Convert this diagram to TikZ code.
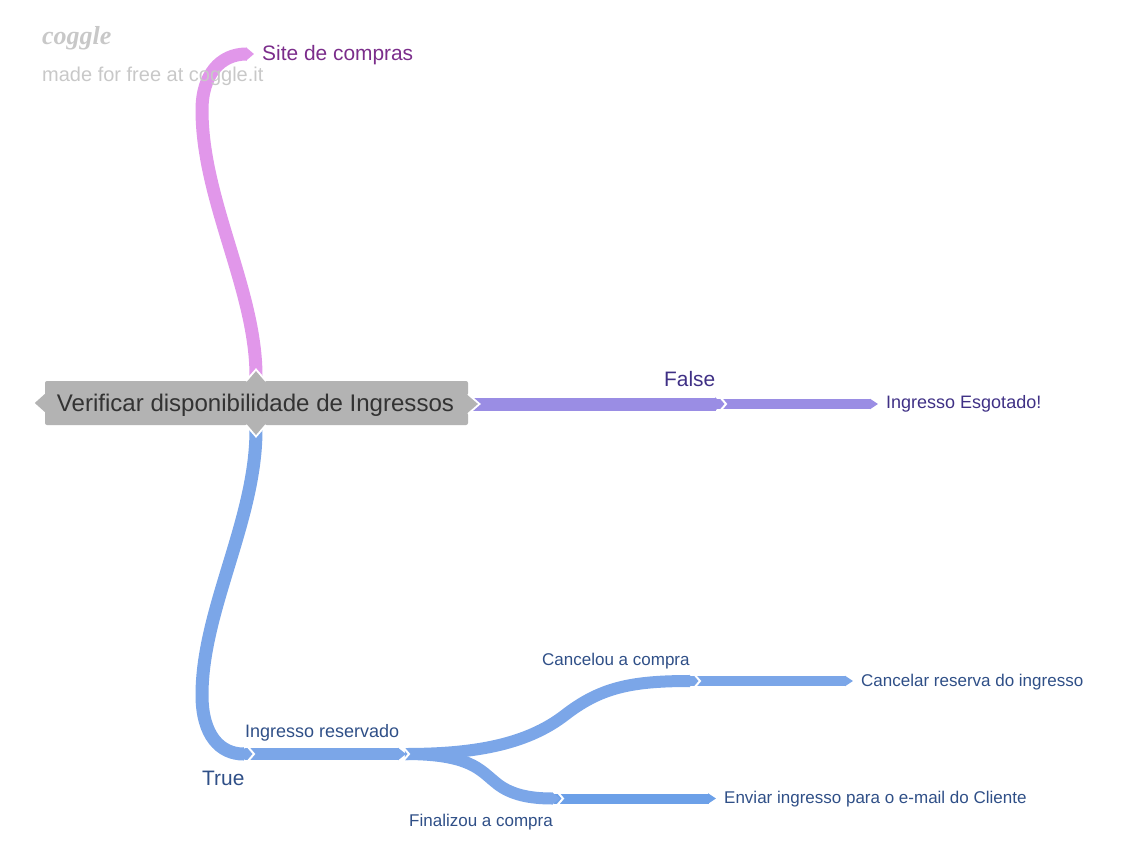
\documentclass[tikz,border=0pt]{standalone}
\usepackage{fontspec}
\setmainfont{Liberation Sans}
\newfontfamily\logofont{Liberation Serif}
\usetikzlibrary{arrows.meta}
\definecolor{rootgray}{HTML}{B3B3B3}
\definecolor{pinkbranch}{HTML}{E197EA}
\definecolor{violetbranch}{HTML}{9A8DE4}
\definecolor{bluebranch}{HTML}{7BA6E8}
\definecolor{sendbranch}{HTML}{6CA0E8}
\definecolor{pinktext}{HTML}{7B2D8B}
\definecolor{violettext}{HTML}{3F3085}
\definecolor{bluetext}{HTML}{2F4F87}
\definecolor{logogray}{HTML}{C8C8C8}
\tikzset{
	branch/.style={line width=#1pt, -{Triangle[length=8pt,width=#1pt]}},
	label/.style={inner sep=0pt, anchor=west},
	leaf/.style={inner xsep=8pt, inner ysep=0pt, anchor=west, font=\fontsize{17}{21}\selectfont},
	chevron/.pic={\draw[white, line width=2pt, miter limit=10] (-6,-7) -- (0,0) -- (-6,7);},
	roottip/.pic={\fill[rootgray] (0,-9) -- (10,0) -- (0,9) -- cycle;},
	rootchevron/.pic={\draw[white, line width=1.8pt] (0,-10) -- (11.5,0) -- (0,10);}
}
\begin{document}
\begin{tikzpicture}[x=1pt,y=-1pt]
\useasboundingbox (0,0) rectangle (1130,867);
\node[fill=rootgray, rounded corners=2pt, minimum width=423pt, minimum height=44pt, inner sep=0pt, text=black!80, font=\fontsize{24.05}{29}\selectfont] (root) at (256.5,403) {\hspace*{-2pt}\raisebox{-8.5pt}[0pt][0pt]{Verificar disponibilidade de Ingressos}};
\coordinate (roottop) at (256,376);
\coordinate (rootbottom) at (256,430);
\coordinate (rootright) at (472,404);
\coordinate (falsejoin) at (723,404);
\coordinate (truejoin) at (251,754);
\coordinate (reservedjoin) at (406,754);
\coordinate (cancelstart) at (405,754);
\coordinate (canceljoin) at (697,681);
\coordinate (finishjoin) at (560,798.5);
\node[leaf, text=pinktext, font=\fontsize{20.9}{25}\selectfont] (site) at (254,55) {Site de compras};
\node[leaf, text=violettext, font=\fontsize{18}{21}\selectfont] (sold) at (878,403.5) {Ingresso Esgotado!};
\node[leaf, text=bluetext] (cancelleaf) at (853,682) {Cancelar reserva do ingresso};
\node[leaf, text=bluetext] (sendleaf) at (716,799) {Enviar ingresso para o e-mail do Cliente};
\node[label, text=violettext, font=\fontsize{20.9}{25}\selectfont] (falselabel) at (664,379) {False};
\node[label, text=bluetext, font=\fontsize{20.9}{25}\selectfont] (truelabel) at (202,778) {True};
\node[label, text=bluetext, font=\fontsize{18}{21}\selectfont] (reservedlabel) at (245,733) {Ingresso reservado};
\node[label, text=bluetext, font=\fontsize{17}{21}\selectfont] (cancellabel) at (542,661) {Cancelou a compra};
\node[label, text=bluetext, font=\fontsize{17}{21}\selectfont] (finishlabel) at (409,822) {Finalizou a compra};
\draw[branch=13, pinkbranch] (roottop) .. controls (256,290) and (202,200) .. (202,110) .. controls (202,75) and (220,54) .. (site.west |- 0,54);
\draw[branch=10, violetbranch] (falsejoin) ++(-6,0) -- (sold.west |- falsejoin);
\draw[branch=13, violetbranch] (rootright) -- (falsejoin);
\draw[branch=10, bluebranch] (canceljoin) ++(-6,0) -- (cancelleaf.west |- canceljoin);
\draw[branch=10, sendbranch] (finishjoin) ++(-6,0) -- (sendleaf.west |- finishjoin);
\draw[branch=12, bluebranch] (cancelstart) .. controls (470,754) and (525,746) .. (565,715) .. controls (600,688) and (630,681) .. (canceljoin);
\draw[branch=12, bluebranch] (cancelstart) .. controls (470,754) and (480,770) .. (495,782) .. controls (510,795) and (530,798.5) .. (finishjoin);
\draw[branch=12, bluebranch] (truejoin) ++(-6,0) -- (reservedjoin);
\draw[branch=13, bluebranch] (rootbottom) .. controls (256,520) and (202,610) .. (202,695) .. controls (202,735) and (220,754) .. (truejoin);
\path (rootright) ++(-4,0) pic {roottip} pic {rootchevron};
\path (roottop) ++(0,5) pic[rotate=90] {roottip} pic[rotate=90] {rootchevron};
\path (rootbottom) ++(0,-5) pic[rotate=-90] {roottip} pic[rotate=-90] {rootchevron};
\path (root.west) pic[rotate=180] {roottip};
\foreach \j in {falsejoin,truejoin,reservedjoin,canceljoin,finishjoin}
{
	\path (\j) ++(3,0) pic {chevron};
}
\node[label, text=logogray, font=\logofont\bfseries\itshape\fontsize{26}{30}\selectfont] (logo) at (42,38) {coggle};
\node[label, text=logogray, font=\fontsize{20}{24}\selectfont] (madefor) at (42,76) {made for free at coggle.it};
\end{tikzpicture}
\end{document}
